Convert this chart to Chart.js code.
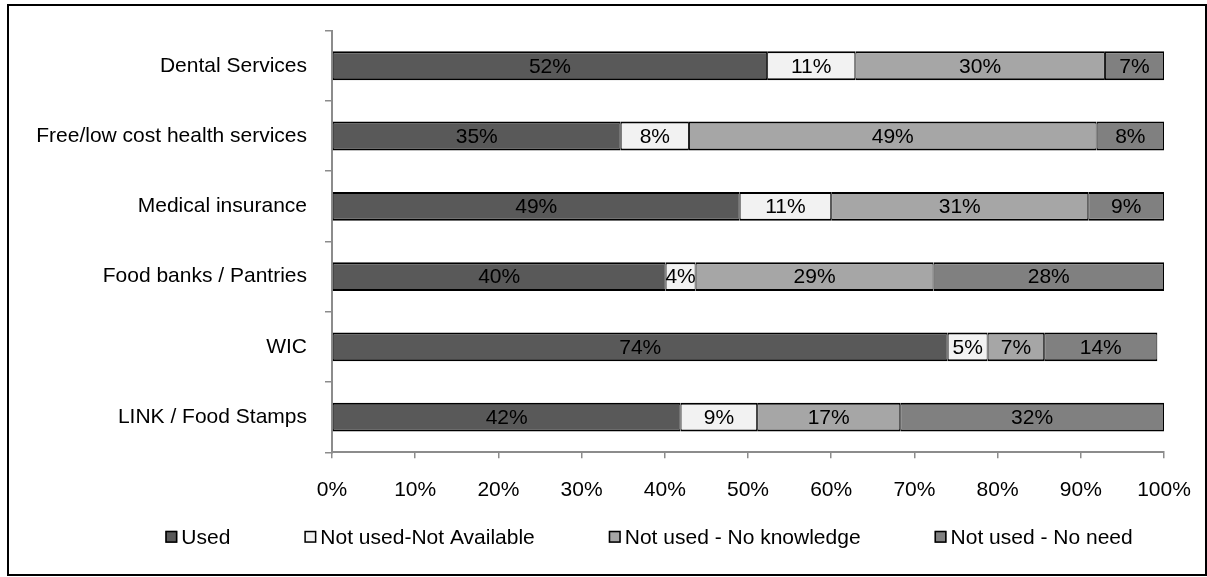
<!DOCTYPE html>
<html>
<head>
<meta charset="utf-8">
<title>Use of services</title>
<script src="https://cdn.jsdelivr.net/npm/chart.js@4/dist/chart.umd.min.js"></script>
<style>
  html, body { margin: 0; padding: 0; background: #fff; }
  #frame {
    position: absolute; left: 7px; top: 4px; width: 1200px; height: 572px;
    border: 2px solid #000; box-sizing: border-box; background: #fff;
  }
  #chart { position: absolute; left: 0; top: 0; }
</style>
</head>
<body>
<div id="frame"></div>
<canvas id="chart" width="1207" height="577"></canvas>
<script>
// Services asked about, top to bottom
const categories = [
  'Dental Services',
  'Free/low cost health services',
  'Medical insurance',
  'Food banks / Pantries',
  'WIC',
  'LINK / Food Stamps'
];

// Share of respondents (%) per answer
const used            = [52.3, 34.7, 49.0, 40.1, 74.0, 41.9];
const notAvailable    = [10.6,  8.2, 11.0,  3.6,  4.8,  9.2];
const noKnowledge     = [30.0, 49.0, 30.9, 28.6,  6.8, 17.2];
const noNeed          = [ 7.1,  8.1,  9.1, 27.7, 13.6, 31.7];

const seriesNames = ['Used', 'Not used-Not Available', 'Not used - No knowledge', 'Not used - No need'];
const seriesColors = ['#595959', '#f2f2f2', '#a6a6a6', '#808080'];

// x axis ticks: 0% .. 100%
const xTicks = [0, 10, 20, 30, 40, 50, 60, 70, 80, 90, 100];

const FONT = '"Liberation Sans", Arial, sans-serif';
Chart.defaults.font.family = FONT;
Chart.defaults.font.size = 21;
Chart.defaults.color = '#000';

// Percent label in the middle of each bar segment
const valueLabels = {
  id: 'valueLabels',
  afterDatasetsDraw(chart) {
    const ctx = chart.ctx;
    ctx.save();
    ctx.font = '21px ' + FONT;
    ctx.fillStyle = '#000';
    ctx.textAlign = 'center';
    ctx.textBaseline = 'middle';
    chart.data.datasets.forEach((ds, i) => {
      chart.getDatasetMeta(i).data.forEach((bar, j) => {
        const c = bar.getCenterPoint();
        ctx.fillText(Math.round(ds.data[j]) + '%', c.x, c.y + 1);
      });
    });
    ctx.restore();
  }
};

// Single-row legend under the axis: square swatch, label, wide gaps
const bottomLegend = {
  id: 'bottomLegend',
  afterDraw(chart, args, opts) {
    const ctx = chart.ctx;
    const items = chart.data.datasets;
    ctx.save();
    ctx.font = opts.size + 'px ' + FONT;
    ctx.textAlign = 'left';
    ctx.textBaseline = 'middle';
    const widths = items.map(d => opts.box + opts.textGap + ctx.measureText(d.label).width);
    const total = widths.reduce((a, b) => a + b, 0) + opts.itemGap * (items.length - 1);
    let x = opts.centerX - total / 2;
    const y = chart.chartArea.bottom + opts.offsetY;
    items.forEach((d, i) => {
      ctx.fillStyle = d.backgroundColor;
      ctx.fillRect(x, y - opts.box / 2, opts.box, opts.box);
      ctx.strokeStyle = '#000';
      ctx.lineWidth = 1.5;
      ctx.strokeRect(x + 0.75, y - opts.box / 2 + 0.75, opts.box - 1.5, opts.box - 1.5);
      ctx.fillStyle = '#000';
      ctx.fillText(d.label, x + opts.box + opts.textGap, y + 1);
      x += widths[i] + opts.itemGap;
    });
    ctx.restore();
  }
};

const seriesData = [used, notAvailable, noKnowledge, noNeed];

new Chart(document.getElementById('chart'), {
  type: 'bar',
  data: {
    labels: categories,
    datasets: seriesNames.map((name, i) => ({
      label: name,
      data: seriesData[i],
      backgroundColor: seriesColors[i],
      borderColor: '#000',
      borderWidth: { top: 2, bottom: 2, left: 1, right: 1 },
      borderSkipped: false,
      barPercentage: 0.41,
      categoryPercentage: 1
    }))
  },
  options: {
    indexAxis: 'y',
    responsive: false,
    animation: false,
    devicePixelRatio: 1,
    layout: { padding: { left: 20, right: 43, top: 28.4, bottom: 55.5 } },
    scales: {
      x: {
        stacked: true,
        min: 0,
        max: 100,
        afterBuildTicks(scale) { scale.ticks = xTicks.map(v => ({ value: v })); },
        // the "100%" label may hang into the right margin
        afterFit(scale) { scale.paddingRight = 30; },
        ticks: {
          callback: v => v + '%',
          padding: 19,
          maxRotation: 0,
          color: '#000'
        },
        grid: { drawOnChartArea: false, tickLength: 6, color: '#8c8c8c', lineWidth: 1.5 },
        border: { color: '#8c8c8c', width: 2 }
      },
      y: {
        stacked: true,
        afterFit(scale) { scale.width = 312; },
        ticks: { padding: 18, color: '#000' },
        grid: { drawOnChartArea: false, tickLength: 7, color: '#8c8c8c', lineWidth: 1.5 },
        border: { color: '#8c8c8c', width: 2 }
      }
    },
    plugins: {
      tooltip: { enabled: false },
      legend: { display: false },
      bottomLegend: { size: 21, box: 12, textGap: 4, itemGap: 74, centerX: 649, offsetY: 84.5 }
    }
  },
  plugins: [valueLabels, bottomLegend]
});
</script>
</body>
</html>
